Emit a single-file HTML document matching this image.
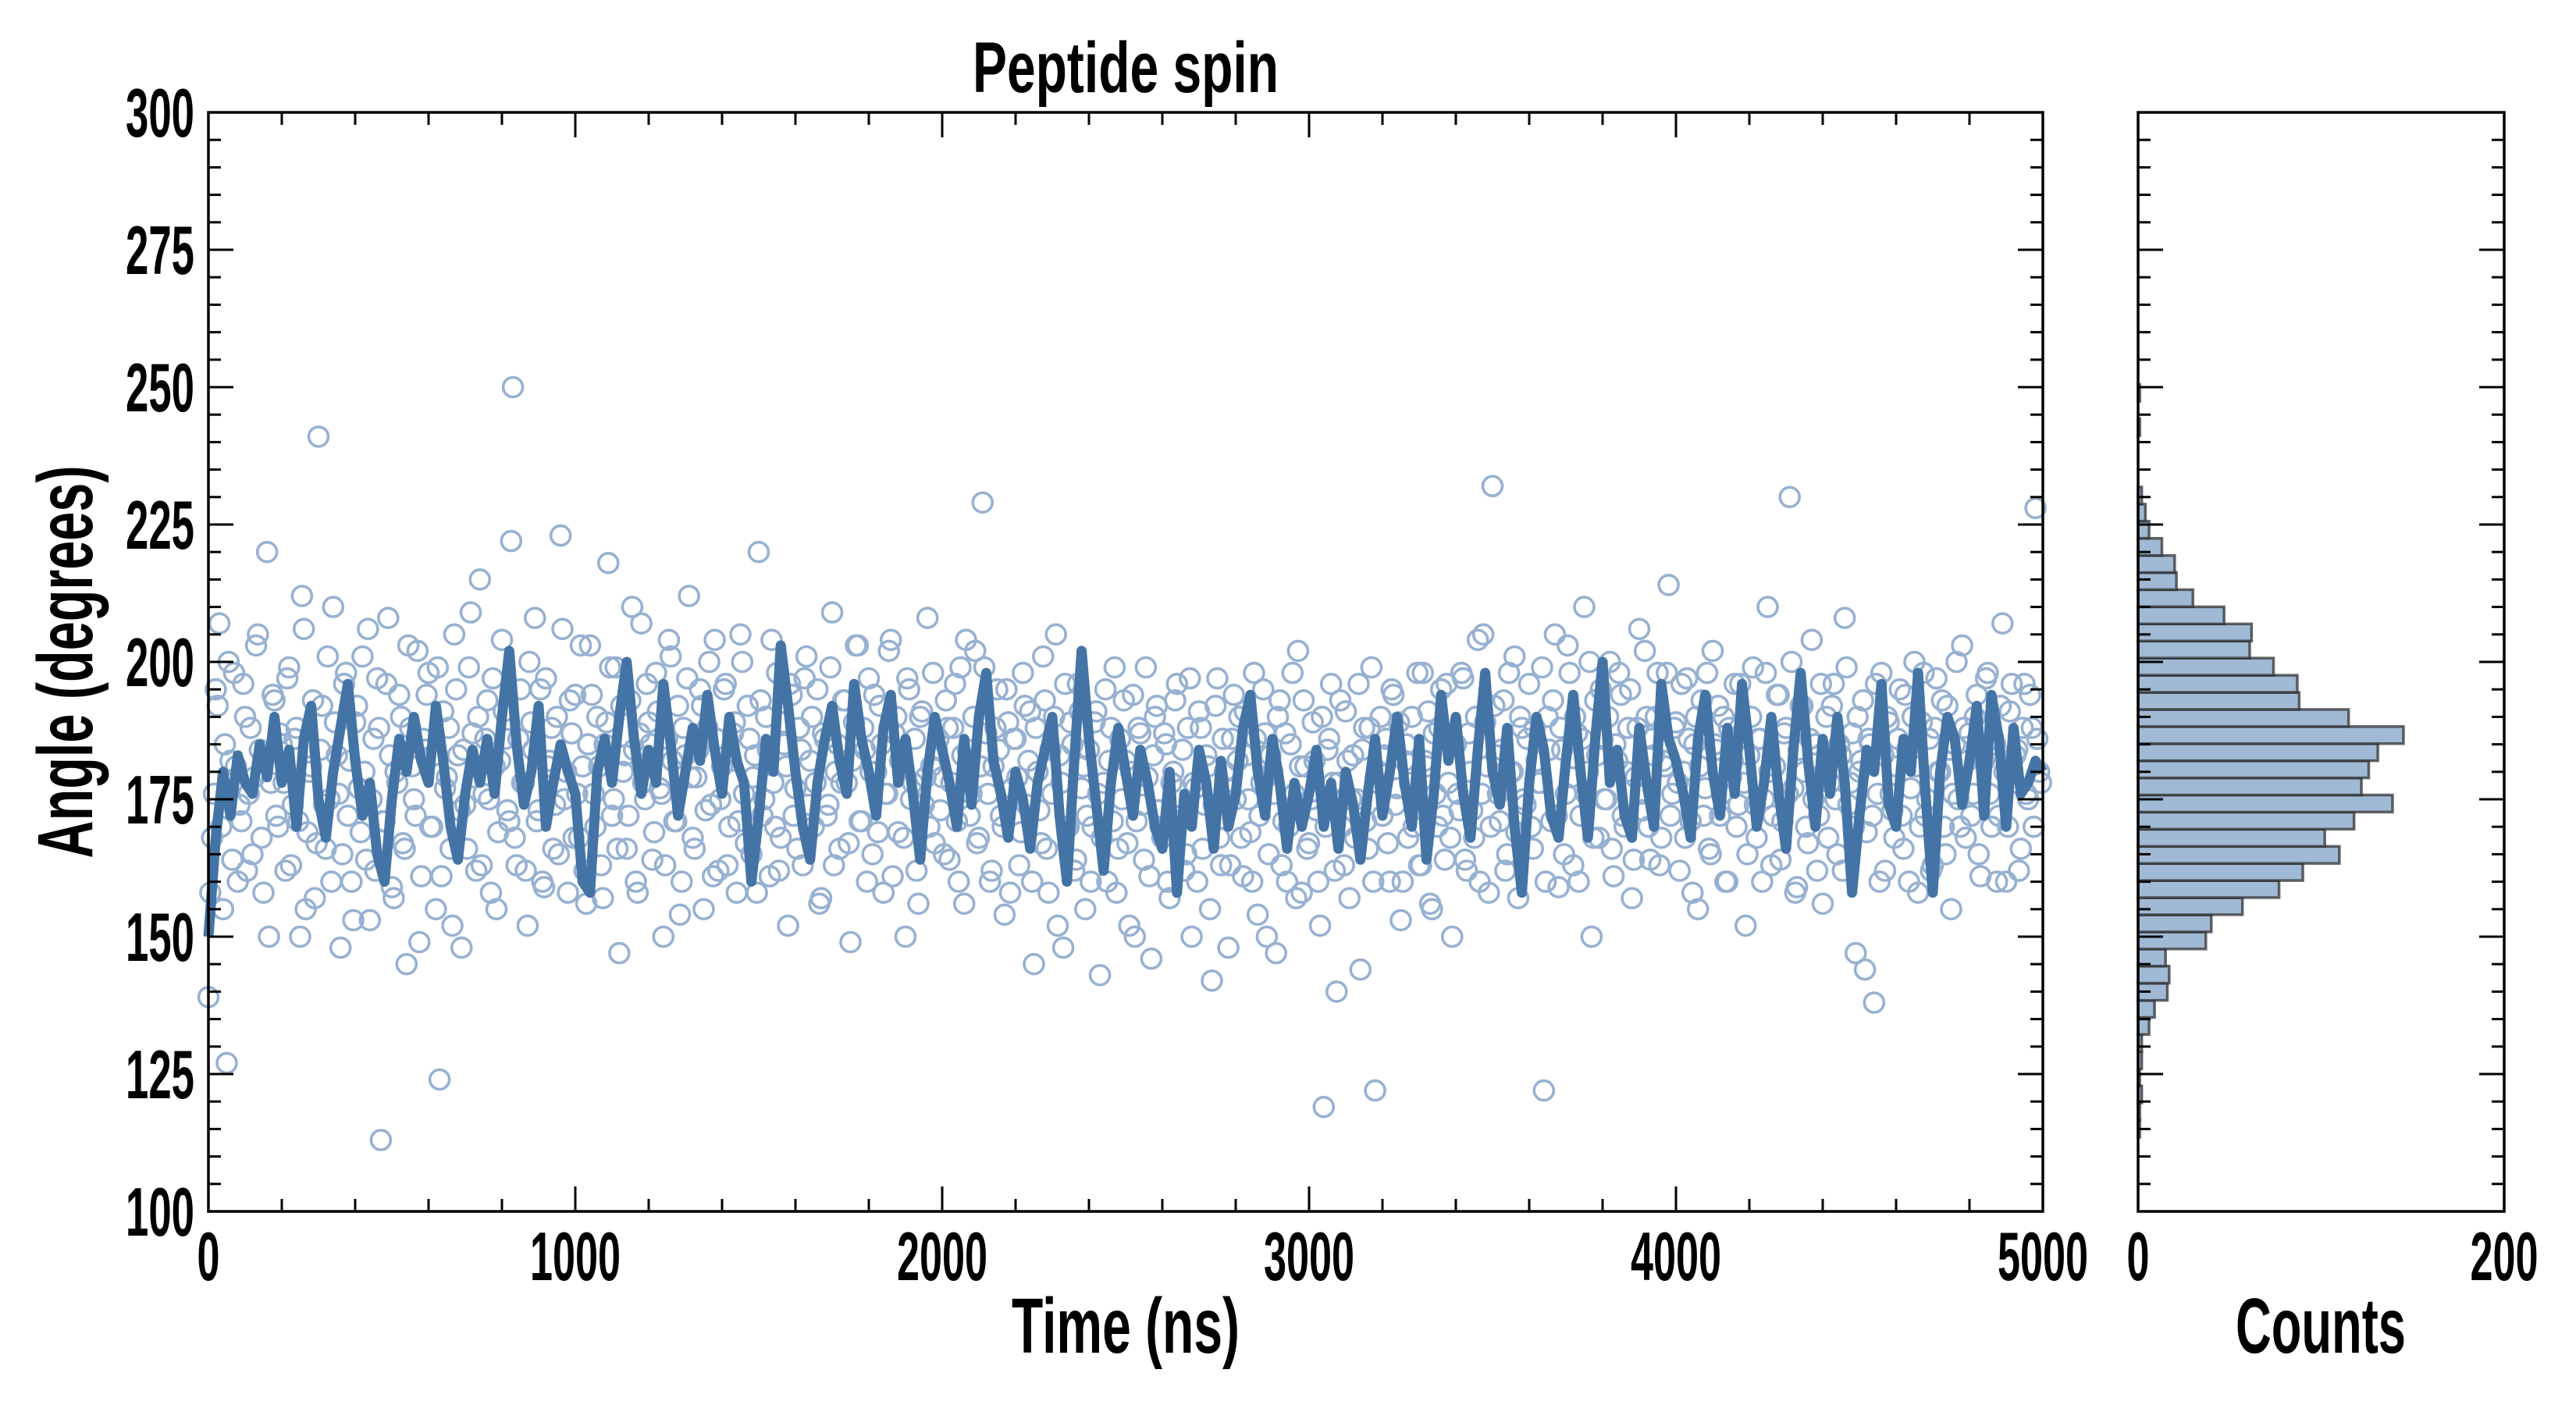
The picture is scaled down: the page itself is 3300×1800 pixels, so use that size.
<!DOCTYPE html>
<html><head><meta charset="utf-8"><style>
html,body{margin:0;padding:0;background:#fff;}
svg{display:block;}
text{font-family:"Liberation Sans Narrow","Liberation Sans",sans-serif;font-weight:bold;fill:#000;}
</style></head><body>
<svg id="chart" width="3300" height="1800" viewBox="0 0 3300 1800" xmlns="http://www.w3.org/2000/svg">
<text x="1442" y="118" font-size="92" text-anchor="middle" textLength="392" lengthAdjust="spacingAndGlyphs">Peptide spin</text>
<text x="1442" y="1733" font-size="100" text-anchor="middle" textLength="292" lengthAdjust="spacingAndGlyphs">Time (ns)</text>
<text x="2973" y="1733" font-size="100" text-anchor="middle" textLength="218" lengthAdjust="spacingAndGlyphs">Counts</text>
<text transform="translate(118,848) rotate(-90)" x="0" y="0" font-size="100" text-anchor="middle" textLength="503" lengthAdjust="spacingAndGlyphs">Angle (degrees)</text>
<g id="scatter"></g>
<g id="line"></g>
<g id="hist"></g>
<g id="axes"></g>
</svg>
<script>
const lineValues = [150,168,180,172,183,178,176,185,179,190,
178,184,170,186,192,175,168,180,188,196,
182,172,178,165,160,175,186,180,190,182,
178,192,182,170,164,176,184,178,186,176,
190,202,185,174,180,192,170,178,185,180,
176,160,158,180,186,178,190,200,186,176,
184,178,196,185,172,180,188,182,194,184,
176,190,182,178,160,172,186,180,203,192,
180,170,164,178,186,192,182,176,196,186,
180,172,188,194,178,186,176,164,180,190,
184,178,170,186,174,190,198,182,176,168,
180,175,166,178,184,190,172,160,182,202,
186,174,162,178,188,180,172,184,178,170,
166,180,158,176,170,184,178,166,182,170,
176,188,194,180,172,186,178,166,178,170,
176,184,170,178,166,180,174,164,176,186,
172,180,190,178,170,186,164,176,194,182,
190,176,168,184,198,180,174,188,170,158,
178,190,184,172,168,182,194,180,168,186,
200,178,184,172,168,188,178,170,196,186,
182,176,168,186,194,180,172,188,176,196,
184,170,178,190,176,166,184,198,182,170,
186,176,190,178,158,172,184,180,196,174,
170,186,180,198,176,158,180,190,186,174,
182,192,172,194,186,170,188,176,178,182,180];
const lineStep = 20;
const scatterValues = [139,168,195,207,155,127,182,198,160,171,190,176,165,203,184,158,220,178,193,170,
185,162,199,174,188,150,206,169,181,157,241,192,166,175,210,183,148,196,172,160,
189,177,201,164,153,186,197,113,171,208,159,180,194,167,145,188,175,202,161,184,
198,170,155,124,191,179,166,205,183,148,174,199,187,162,215,176,193,158,181,169,
204,186,171,250,163,195,178,152,189,208,173,160,197,182,166,190,223,175,158,187,
194,168,181,156,203,176,190,163,185,218,172,199,147,180,166,193,184,158,207,175,
189,164,198,177,150,186,201,171,192,160,183,212,168,179,195,155,188,174,204,162,
181,196,170,187,158,205,176,192,165,183,220,172,190,161,178,198,168,185,152,194,
177,188,163,201,182,170,195,157,186,174,209,180,166,193,178,149,189,203,171,184,
197,165,180,192,158,176,204,187,169,183,150,195,178,162,190,174,208,181,167,186,
179,193,164,188,171,199,156,184,176,202,168,229,187,160,181,195,172,154,189,177,
186,163,198,174,191,145,180,167,193,158,176,205,183,148,170,189,162,196,177,155,
184,170,191,143,178,160,188,199,166,175,182,152,194,171,187,164,179,146,190,173,
168,185,157,180,196,172,162,188,150,177,191,166,183,155,174,197,163,180,148,186,
175,190,161,183,169,198,154,178,187,165,180,147,193,171,160,185,176,202,158,181,
167,189,173,152,119,184,196,162,178,170,191,157,183,175,144,188,166,199,122,180,
172,186,160,194,177,153,182,168,190,175,163,198,181,156,187,170,195,164,178,150,
185,173,197,162,180,168,204,176,189,158,232,183,171,193,165,180,201,157,188,174,
196,166,182,178,122,190,171,205,159,184,176,198,163,187,172,210,180,150,193,168,
186,175,200,161,182,194,170,188,157,179,206,173,190,164,183,198,168,181,214,176,
189,162,180,197,171,185,155,193,177,166,202,184,172,190,160,179,196,174,187,152,
183,199,168,186,175,210,163,181,194,171,188,230,177,159,192,180,167,204,185,172,
156,190,178,196,165,183,208,174,187,147,180,193,169,185,138,176,198,162,189,173,
181,195,166,184,177,200,158,189,172,186,163,197,180,170,192,155,185,175,203,168,
187,176,194,161,182,198,170,185,172,207,160,191,178,184,166,196,175,188,228,180];
const scatterValuesB = [158,176,192,170,185,200,164,181,174,196,162,188,179,205,168,183,150,194,172,187,
178,197,163,186,171,212,155,180,193,167,184,174,201,160,189,176,165,198,182,153,
192,169,180,206,175,162,188,171,196,183,157,178,190,166,203,181,172,149,186,194,
170,183,199,161,177,188,152,195,173,184,166,209,179,190,163,186,175,197,155,182,
191,173,222,168,186,178,162,200,184,171,195,159,181,188,174,165,206,180,193,168,
176,203,162,185,194,170,181,157,189,199,175,166,192,183,172,210,160,187,178,196,
185,169,191,176,163,204,182,171,154,188,197,179,166,184,192,173,200,161,186,175,
195,163,182,189,171,200,167,186,179,158,193,175,184,204,170,162,189,181,196,172,
166,184,197,174,190,178,156,187,172,199,163,185,178,193,167,182,203,171,188,160,
180,194,169,185,176,202,161,190,182,168,197,175,186,156,191,179,170,198,184,173,
165,188,178,196,160,183,204,172,190,167,181,199,176,162,188,184,170,195,158,186,
179,169,192,182,160,188,173,201,166,184,190,152,178,196,170,185,164,191,181,172,
160,189,176,168,195,182,171,158,186,193,167,180,150,188,174,199,161,183,192,170,
187,160,178,193,171,184,165,197,178,160,188,174,181,142,192,168,186,177,163,194,
182,168,191,175,160,186,172,195,150,183,176,190,163,187,170,198,157,181,193,166,
175,182,160,190,170,186,178,140,193,163,182,175,168,196,184,171,188,160,178,190,
183,167,195,174,189,160,185,178,170,198,163,182,191,155,176,188,172,196,168,185,
176,198,164,187,173,190,160,205,181,170,192,176,184,162,198,180,169,190,175,186,
170,188,178,199,160,184,193,172,188,165,203,179,190,160,186,176,200,168,183,195,
175,190,166,185,198,172,180,195,164,188,176,202,170,186,190,163,182,198,172,188,
178,196,168,186,158,190,181,172,198,165,185,192,176,160,188,182,170,196,178,165,
190,174,186,160,198,180,172,194,164,187,176,200,158,184,192,170,186,175,162,196,
180,168,192,175,185,162,199,178,170,190,182,144,186,172,196,160,183,190,176,168,
186,172,194,160,190,181,170,198,175,162,188,180,193,165,184,176,200,170,188,182,
172,190,165,184,197,176,186,160,192,180,170,196,183,162,188,176,194,170,186,178];
const scatterStep = 10;
const histBinStart = 113.5;
const histBinWidth = 3.114;
const histCounts = [1,1,2,1,2,2,6,9,16,17,15,37,40,57,77,90,110,102,118,139,122,126,131,145,115,88,87,74,61,62,47,30,21,20,13,6,4,2,0,0,0,1,0,1];
const yTickLabels = ["100","125","150","175","200","225","250","275","300"];
const xTickLabels = ["0","1000","2000","3000","4000","5000"];
const histTickLabels = ["0","200"];

const NS="http://www.w3.org/2000/svg";
const L=267,R=2617,T=144,B=1552,HL=2739,HR=3208;
const xs=v=>L+(v/5000)*(R-L);
const ys=v=>B-((v-100)/200)*(B-T);
const hx=v=>HL+(v/200)*(HR-HL);
function mk(tag,parent,attrs){const e=document.createElementNS(NS,tag);for(const k in attrs)e.setAttribute(k,attrs[k]);parent.appendChild(e);return e;}

const sg=document.getElementById('scatter');
function drawScatter(arr,offset){
  arr.forEach((v,i)=>{
    const c=mk('circle',sg,{cx:xs(i*scatterStep+offset).toFixed(1),cy:ys(v).toFixed(1),r:12.5,fill:'none',stroke:'#97b1d1','stroke-width':3.6});
    
    
  });
}
drawScatter(scatterValues,0);
drawScatter(scatterValuesB,5);
const lg=document.getElementById('line');
const pts=lineValues.map((v,i)=>xs(i*lineStep).toFixed(1)+','+ys(v).toFixed(1)).join(' ');
const pl=mk('polyline',lg,{points:pts,fill:'none',stroke:'#4474a6','stroke-width':13,'stroke-linejoin':'round'});



const hg=document.getElementById('hist');
histCounts.forEach((c,i)=>{
  if(c<=0)return;
  const y0=ys(histBinStart+histBinWidth*(i+1)), y1=ys(histBinStart+histBinWidth*i);
  const r=mk('rect',hg,{x:HL,y:y0.toFixed(1),width:(hx(c)-HL).toFixed(1),height:(y1-y0).toFixed(1),fill:'#a0b9d4',stroke:'rgba(40,40,40,0.7)','stroke-width':3.5});
  
  
});

const ag=document.getElementById('axes');
function frame(x0,x1,name){
  const f=mk('rect',ag,{x:x0,y:T,width:x1-x0,height:B-T,fill:'none',stroke:'#000','stroke-width':3.5});
  
  
}
frame(L,R,'main-plot-frame');
frame(HL,HR,'histogram-frame');
for(let v=100;v<=300;v+=5){
  const maj=(v%25===0), len=maj?32:16, y=ys(v);
  [[L,1],[R,-1],[HL,1],[HR,-1]].forEach(([x,d])=>mk('line',ag,{x1:x,x2:x+d*len,y1:y,y2:y,stroke:'#000','stroke-width':3}));
}
yTickLabels.forEach(t=>{
  const e=mk('text',ag,{x:249,y:(ys(+t)+31).toFixed(1),'font-size':88,'text-anchor':'end',textLength:88,lengthAdjust:'spacingAndGlyphs'});
  e.textContent=t;
  
  
});
for(let v=0;v<=5000;v+=200){
  const maj=(v%1000===0), len=maj?32:16, x=xs(v);
  mk('line',ag,{x1:x,x2:x,y1:B,y2:B-len,stroke:'#000','stroke-width':3});
  mk('line',ag,{x1:x,x2:x,y1:T,y2:T+len,stroke:'#000','stroke-width':3});
}
xTickLabels.forEach(t=>{
  const e=mk('text',ag,{x:xs(+t).toFixed(1),y:1640,'font-size':88,'text-anchor':'middle',textLength:(29*t.length),lengthAdjust:'spacingAndGlyphs'});
  e.textContent=t;
  
  
});
histTickLabels.forEach(t=>{
  const e=mk('text',ag,{x:hx(+t).toFixed(1),y:1640,'font-size':88,'text-anchor':'middle',textLength:(29*t.length),lengthAdjust:'spacingAndGlyphs'});
  e.textContent=t;
  
  
});
</script>
</body></html>
